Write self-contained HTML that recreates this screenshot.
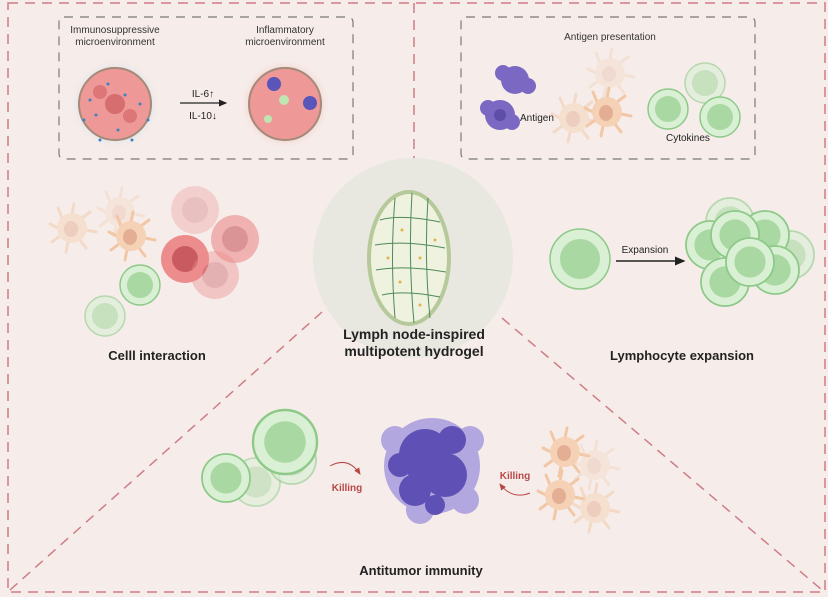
<!DOCTYPE html>
<html><head><meta charset="utf-8"><style>
html,body{margin:0;padding:0;background:#fff}
svg{display:block}
text{font-family:"Liberation Sans",sans-serif}
</style></head><body>
<svg width="828" height="597" viewBox="0 0 828 597" xmlns="http://www.w3.org/2000/svg">
<defs>
<radialGradient id="gb" cx="0.5" cy="0.5" r="0.5"><stop offset="0.6" stop-color="#c8d3e6"/><stop offset="1" stop-color="#f5ecea" stop-opacity="0"/></radialGradient>
<radialGradient id="gr" cx="0.5" cy="0.5" r="0.5"><stop offset="0.6" stop-color="#f2b0b0"/><stop offset="1" stop-color="#f5ecea" stop-opacity="0"/></radialGradient>
<marker id="ah" markerWidth="8" markerHeight="8" refX="6" refY="4" orient="auto"><path d="M0,1 L7,4 L0,7z" fill="#222"/></marker>
<marker id="ar" markerWidth="8" markerHeight="8" refX="6" refY="4" orient="auto"><path d="M0,1 L7,4 L0,7z" fill="#b84848"/></marker>
<g id="tc"><circle r="20" fill="#d9f0d4" stroke="#8ec98a" stroke-width="1.5"/><circle r="13" fill="#a9d8a2"/></g>
<g id="dc"><path d="M-14,0 L-22,-4 M-10,-10 L-14,-20 M0,-14 L2,-24 M10,-10 L18,-16 M14,2 L24,4 M8,12 L14,20 M-4,14 L-6,24 M-12,8 L-20,14" stroke="#f2c7a6" stroke-width="3" stroke-linecap="round"/><circle r="15" fill="#f5d2b5"/><ellipse cx="-1" cy="1" rx="7" ry="8" fill="#e3ae93"/></g>
<g id="tu"><circle r="24" fill="#ec8c8c"/><circle r="13" fill="#c85a60"/></g>
</defs>
<rect width="828" height="597" fill="#f6edea"/>
<g fill="none" stroke="#cf7d84" stroke-width="1.5" stroke-dasharray="10,7">
<rect x="8" y="3" width="817" height="589"/>
<line x1="414" y1="3" x2="414" y2="165"/>
<line x1="322" y1="312" x2="10" y2="590"/>
<line x1="502" y1="318" x2="822" y2="590"/>
</g>
<g fill="none" stroke="#7a7a7a" stroke-width="1.2" stroke-dasharray="9,7">
<rect x="59" y="17" width="294" height="142" rx="5"/>
<rect x="461" y="17" width="294" height="142" rx="5"/>
</g>
<!-- top-left -->
<text x="115" y="33" font-size="10" text-anchor="middle" fill="#333">Immunosuppressive</text>
<text x="115" y="45" font-size="10" text-anchor="middle" fill="#333">microenvironment</text>
<text x="285" y="33" font-size="10" text-anchor="middle" fill="#333">Inflammatory</text>
<text x="285" y="45" font-size="10" text-anchor="middle" fill="#333">microenvironment</text>
<circle cx="115" cy="104" r="46" fill="url(#gb)"/>
<circle cx="115" cy="104" r="36" fill="#ef9898" stroke="#a48a78" stroke-width="2"/>
<circle cx="115" cy="104" r="10" fill="#d66d6f"/><circle cx="100" cy="92" r="7" fill="#dc7677"/><circle cx="130" cy="116" r="7" fill="#dc7677"/>
<g fill="#3b82c4"><circle cx="90" cy="100" r="1.5"/><circle cx="96" cy="115" r="1.5"/><circle cx="108" cy="84" r="1.5"/><circle cx="125" cy="95" r="1.5"/><circle cx="140" cy="104" r="1.5"/><circle cx="118" cy="130" r="1.5"/><circle cx="84" cy="120" r="1.5"/><circle cx="148" cy="120" r="1.5"/><circle cx="100" cy="140" r="1.5"/><circle cx="132" cy="140" r="1.5"/></g>
<circle cx="285" cy="104" r="46" fill="url(#gr)"/>
<circle cx="285" cy="104" r="36" fill="#ef9898" stroke="#a48a78" stroke-width="2"/>
<circle cx="274" cy="84" r="7" fill="#5a55b8"/><circle cx="310" cy="103" r="7" fill="#5a55b8"/>
<circle cx="284" cy="100" r="5" fill="#bfe5b2"/><circle cx="268" cy="119" r="4" fill="#bfe5b2"/>
<line x1="180" y1="103" x2="226" y2="103" stroke="#222" stroke-width="1.2" marker-end="url(#ah)"/>
<text x="203" y="97" font-size="10" text-anchor="middle" fill="#222">IL-6↑</text>
<text x="203" y="119" font-size="10" text-anchor="middle" fill="#222">IL-10↓</text>
<!-- top-right -->
<text x="610" y="40" font-size="10" text-anchor="middle" fill="#333">Antigen presentation</text>
<g fill="#7b68c2"><circle cx="515" cy="80" r="14"/><circle cx="503" cy="73" r="8"/><circle cx="528" cy="86" r="8"/><circle cx="500" cy="115" r="15"/><circle cx="488" cy="108" r="8"/><circle cx="512" cy="122" r="8"/></g>
<circle cx="500" cy="115" r="6" fill="#5e4ea8"/>
<use href="#dc" x="574" y="118" opacity="0.5"/>
<use href="#dc" x="610" y="73" opacity="0.3"/>
<use href="#dc" x="607" y="112"/>
<use href="#tc" x="668" y="109"/>
<use href="#tc" x="705" y="83" opacity="0.6"/>
<use href="#tc" x="720" y="117"/>
<text x="520" y="121" font-size="10" fill="#222">Antigen</text>
<text x="666" y="141" font-size="10" fill="#222">Cytokines</text>
<!-- center -->
<circle cx="413" cy="258" r="100" fill="#e8e8e0"/>
<ellipse cx="409" cy="258" rx="40" ry="66" fill="#eef2de" stroke="#b6c99a" stroke-width="4"/>
<g stroke="#4e8a5a" stroke-width="1" fill="none">
<path d="M380,220 Q400,214 440,222 M375,245 Q405,240 445,248 M376,270 Q405,265 446,272 M382,295 Q405,290 440,297"/>
<path d="M395,198 Q390,258 395,318 M412,193 Q408,258 414,323 M428,198 Q424,258 430,318"/>
</g>
<g fill="#e0b64a"><circle cx="402" cy="230" r="1.5"/><circle cx="420" cy="258" r="1.5"/><circle cx="400" cy="282" r="1.5"/><circle cx="435" cy="240" r="1.5"/><circle cx="388" cy="258" r="1.5"/><circle cx="420" cy="305" r="1.5"/></g>
<text x="414" y="339" font-size="14" font-weight="bold" text-anchor="middle" fill="#222">Lymph node-inspired</text>
<text x="414" y="356" font-size="14" font-weight="bold" text-anchor="middle" fill="#222">multipotent hydrogel</text>
<!-- left middle -->
<use href="#dc" x="72" y="228" opacity="0.5"/>
<use href="#dc" x="120" y="212" opacity="0.3"/>
<use href="#dc" x="131" y="236"/>
<use href="#tu" x="185" y="259"/>
<use href="#tu" x="235" y="239" opacity="0.6"/>
<use href="#tu" x="215" y="275" opacity="0.4"/>
<use href="#tu" x="195" y="210" opacity="0.3"/>
<use href="#tc" x="140" y="285"/>
<use href="#tc" x="105" y="316" opacity="0.6"/>
<text x="157" y="360" font-size="13" font-weight="bold" text-anchor="middle" fill="#222">Celll interaction</text>
<!-- right middle -->
<circle cx="580" cy="259" r="30" fill="#d9f0d4" stroke="#8ec98a" stroke-width="1.5"/><circle cx="580" cy="259" r="20" fill="#a9d8a2"/>
<line x1="616" y1="261" x2="684" y2="261" stroke="#222" stroke-width="1.5" marker-end="url(#ah)"/>
<text x="645" y="253" font-size="10" text-anchor="middle" fill="#222">Expansion</text>
<g>
<use href="#tc" x="730" y="222" opacity="0.6" transform="translate(730,222) scale(1.2) translate(-730,-222)"/>
<use href="#tc" x="790" y="255" opacity="0.6" transform="translate(790,255) scale(1.2) translate(-790,-255)"/>
<use href="#tc" x="710" y="245" transform="translate(710,245) scale(1.2) translate(-710,-245)"/>
<use href="#tc" x="765" y="235" transform="translate(765,235) scale(1.2) translate(-765,-235)"/>
<use href="#tc" x="735" y="235" transform="translate(735,235) scale(1.2) translate(-735,-235)"/>
<use href="#tc" x="775" y="270" transform="translate(775,270) scale(1.2) translate(-775,-270)"/>
<use href="#tc" x="725" y="282" transform="translate(725,282) scale(1.2) translate(-725,-282)"/>
<use href="#tc" x="750" y="262" transform="translate(750,262) scale(1.2) translate(-750,-262)"/>
</g>
<text x="682" y="360" font-size="13" font-weight="bold" text-anchor="middle" fill="#222">Lymphocyte expansion</text>
<!-- bottom -->
<use href="#tc" x="256" y="482" opacity="0.5" transform="translate(256,482) scale(1.2) translate(-256,-482)"/>
<use href="#tc" x="292" y="460" opacity="0.6" transform="translate(292,460) scale(1.2) translate(-292,-460)"/>
<use href="#tc" x="226" y="478" transform="translate(226,478) scale(1.2) translate(-226,-478)"/>
<use href="#tc" x="285" y="442" transform="translate(285,442) scale(1.6) translate(-285,-442)"/>
<g fill="#b3a7df"><circle cx="432" cy="466" r="48"/><circle cx="395" cy="440" r="14"/><circle cx="470" cy="440" r="14"/><circle cx="420" cy="510" r="14"/><circle cx="465" cy="500" r="14"/></g>
<g fill="#5e50b4"><circle cx="425" cy="455" r="26"/><circle cx="445" cy="475" r="22"/><circle cx="415" cy="490" r="16"/><circle cx="452" cy="440" r="14"/><circle cx="400" cy="465" r="12"/><circle cx="435" cy="505" r="10"/></g>
<use href="#dc" x="565" y="452"/>
<use href="#dc" x="560" y="495"/>
<use href="#dc" x="595" y="465" opacity="0.3"/>
<use href="#dc" x="595" y="508" opacity="0.5"/>
<path d="M330,466 Q348,456 360,474" fill="none" stroke="#b84848" stroke-width="1" marker-end="url(#ar)"/>
<text x="347" y="491" font-size="10" font-weight="bold" text-anchor="middle" fill="#b84848">Killing</text>
<path d="M530,493 Q512,500 500,484" fill="none" stroke="#b84848" stroke-width="1" marker-end="url(#ar)"/>
<text x="515" y="479" font-size="10" font-weight="bold" text-anchor="middle" fill="#b84848">Killing</text>
<text x="421" y="575" font-size="13" font-weight="bold" text-anchor="middle" fill="#222">Antitumor immunity</text>
</svg>
</body></html>
